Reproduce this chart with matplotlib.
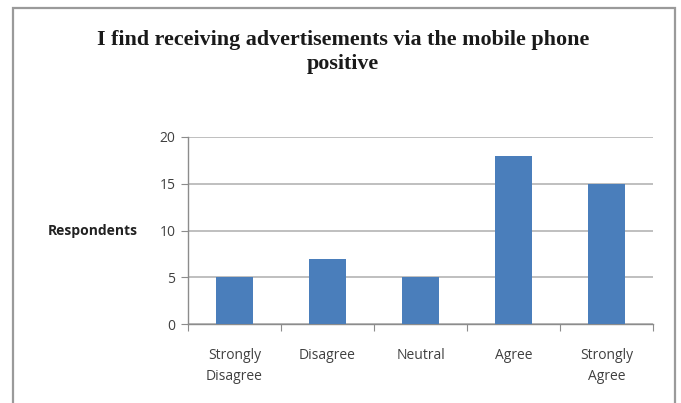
import matplotlib.pyplot as plt
from matplotlib.patches import Rectangle

categories = ["Strongly\nDisagree", "Disagree", "Neutral", "Agree", "Strongly\nAgree"]
respondents = [5, 7, 5, 18, 15]
yticks = [0, 5, 10, 15, 20]

title = "I find receiving advertisements via the mobile phone\npositive"

W, H = 681, 403
fig = plt.figure(figsize=(W / 100, H / 100), dpi=100)

# outer chart frame
fig.patches.append(Rectangle((13 / W, -0.05), (675 - 13) / W, 1.05 - 8 / H,
                             transform=fig.transFigure, fill=False,
                             edgecolor="#9a9a9a", linewidth=1.6))

# plot area in pixels: left 188, right 653, top 137, bottom 324
ax = fig.add_axes([188 / W, 1 - 324 / H, (653 - 188) / W, (324 - 137) / H])

x = range(len(categories))
ax.bar(x, respondents, width=0.4, color="#4a7ebb", zorder=3)

ax.set_xlim(-0.5, len(categories) - 0.5)
ax.set_ylim(0, 20)
ax.set_yticks(yticks)
ax.grid(axis="y", color="#b4b4b4", linewidth=1.2, zorder=0)

for s in ["top", "right"]:
    ax.spines[s].set_visible(False)
for s in ["left", "bottom"]:
    ax.spines[s].set_color("#8c8c8c")
    ax.spines[s].set_linewidth(1.0)

# category labels sit between the boundary ticks
ax.set_xticks([i + 0.5 for i in range(-1, len(categories))])
ax.set_xticklabels([])
ax.set_xticks(list(x), minor=True)
ax.set_xticklabels(categories, minor=True, fontsize=10, family="Open Sans",
                   color="#404040", linespacing=1.55)
ax.tick_params(axis="x", which="major", length=5, color="#8c8c8c", direction="out")
ax.tick_params(axis="x", which="minor", length=0, pad=17)
ax.tick_params(axis="y", length=5, color="#8c8c8c", direction="out", pad=4,
               labelsize=10, labelcolor="#404040")
for lab in ax.get_yticklabels():
    lab.set_family("Open Sans")

fig.text(138 / W, 1 - 231 / H, "Respondents", ha="right", va="center",
         fontsize=10, fontweight="bold", family="Open Sans", color="#222222")

fig.text(343 / W, 1 - 52 / H, title, ha="center", va="center",
         fontsize=15.8, fontweight="bold", family="Liberation Serif",
         color="#1a1a1a", linespacing=1.32)

fig.savefig("out.png", dpi=100)
